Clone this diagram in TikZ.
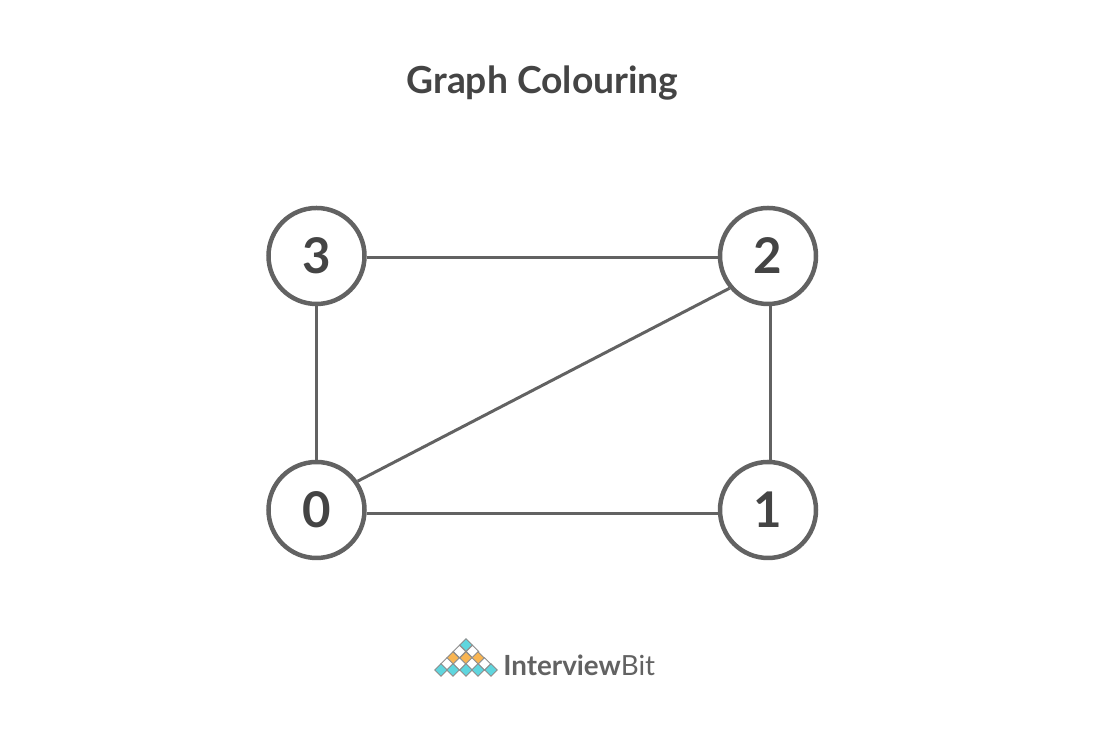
\documentclass[tikz,border=0pt]{standalone}
\usepackage{fontspec}
\setmainfont{Lato}
\definecolor{edgegray}{HTML}{626262}
\definecolor{textgray}{HTML}{444444}
\definecolor{logocyan}{HTML}{5FD6DE}
\definecolor{logoorange}{HTML}{F9B552}
\tikzset{
	vertex/.style={circle, draw=edgegray, line width=0.09cm, fill=white, minimum size=1.92cm, inner sep=0pt, text=textgray, font=\fontsize{28}{28}\selectfont\bfseries},
	edge/.style={draw=edgegray, line width=0.06cm},
	logotile/.style={draw=black!45, line width=0.02cm}
}
\def\tile[#1](#2,#3){\draw[logotile, fill=#1] (#2-0.125, #3) -- (#2, #3+0.125) -- (#2+0.125, #3) -- (#2, #3-0.125) -- cycle;}

\begin{document}
\begin{tikzpicture}
	%%%%% START %%%%%
	\useasboundingbox (0, 0) rectangle (22.1, 14.62);
	
	\node[text=textgray, font=\fontsize{21.2}{21.2}\selectfont\bfseries] (title) at (10.85, 12.96) {Graph Colouring};
	
	\node[vertex] (n3) at (6.33, 9.5) {3};
	\node[vertex] (n2) at (15.36, 9.5) {2};
	\node[vertex] (n0) at (6.33, 4.42) {0};
	\node[vertex] (n1) at (15.36, 4.42) {1};
	
	\draw[edge] ([yshift=-0.03cm]n3.east) -- ([yshift=-0.03cm]n2.west);
	\draw[edge] (n3.south) -- (n0.north);
	\draw[edge] ([xshift=0.04cm]n2.south) -- ([xshift=0.04cm]n1.north);
	\draw[edge] ([yshift=-0.07cm]n0.east) -- ([yshift=-0.07cm]n1.west);
	\draw[edge] (n0.35) -- (n2.220);
	
	%%%%% LOGO %%%%%
	\tile[logocyan](9.32, 1.72);
	\tile[white](9.19, 1.59);
	\tile[white](9.45, 1.59);
	\tile[logoorange](9.06, 1.46);
	\tile[logoorange](9.32, 1.46);
	\tile[logoorange](9.56, 1.46);
	\tile[white](8.94, 1.34);
	\tile[white](9.19, 1.34);
	\tile[white](9.44, 1.34);
	\tile[white](9.69, 1.34);
	\tile[logocyan](8.82, 1.22);
	\tile[logocyan](9.06, 1.22);
	\tile[logocyan](9.32, 1.22);
	\tile[logocyan](9.56, 1.22);
	\tile[logocyan](9.82, 1.22);
	\node[anchor=west, inner sep=0pt, text=edgegray, font=\fontsize{15.8}{15.8}\selectfont] (logotext) at (10.06, 1.32) {\textbf{Interview}Bit};
	%%%%% END %%%%%
\end{tikzpicture}
\end{document}
